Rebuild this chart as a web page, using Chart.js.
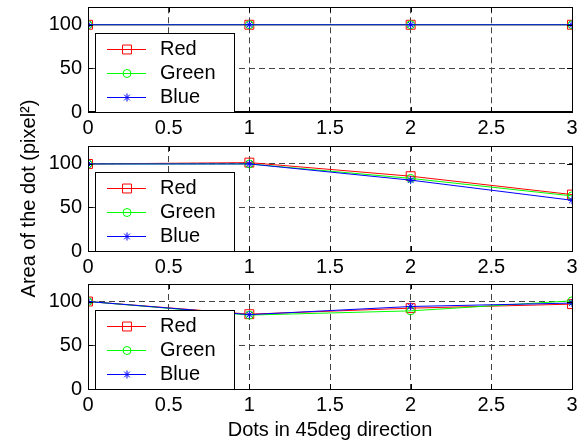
<!DOCTYPE html>
<html><head><meta charset="utf-8">
<script src="https://cdn.jsdelivr.net/npm/chart.js@4.4.0/dist/chart.umd.min.js"></script>
<style>
html,body{margin:0;padding:0;background:#fff;}
#wrap{position:relative;width:583px;height:443px;background:#fff;}
.box{position:absolute;left:0;top:0;width:583px;height:443px;}
</style></head><body>
<div id="wrap">
<div class="box"><canvas id="c1"></canvas></div>
<div class="box"><canvas id="c2"></canvas></div>
<div class="box"><canvas id="c3"></canvas></div>
</div>
<script>
// ---- data ----
const xValues = [0, 1, 2, 3];
const seriesNames = ['Red', 'Green', 'Blue'];
const panel1Red   = [100, 100, 100, 100];
const panel1Green = [100, 100, 100, 100];
const panel1Blue  = [100, 100, 100, 100];
const panel2Red   = [99.5, 101, 85.5, 64.5];
const panel2Green = [99.5, 99.5, 83, 63];
const panel2Blue  = [99.5, 99.5, 81, 58];
const panel3Red   = [100, 85.5, 92.4, 97];
const panel3Green = [100, 84.5, 89.3, 100.8];
const panel3Blue  = [100, 85, 94.3, 98.2];
const xTicks = [0, 0.5, 1, 1.5, 2, 2.5, 3];
const yTicks = [0, 50, 100];
const xTitle = 'Dots in 45deg direction';
const yTitle = 'Area of the dot (pixel\u00B2)';

// ---- styles ----
const FONT = '"Liberation Sans", Arial, sans-serif';
Chart.defaults.font.family = FONT;
Chart.defaults.font.size = 20;
Chart.defaults.color = '#000';
const colors = ['#ff0000', '#00ff00', '#0000ff'];
const pStyles = ['rect', 'circle', 'star'];
const pRadii = [6.3, 4, 4];
const orders = [3, 2, 1];

const boxLegend = {
  id: 'boxLegend',
  afterDraw(chart) {
    const {ctx, chartArea: a} = chart;
    ctx.save();
    ctx.setLineDash([]);
    // frame + inward ticks
    ctx.strokeStyle = '#000'; ctx.lineWidth = 1;
    ctx.strokeRect(Math.round(a.left) + 0.5, Math.round(a.top) + 0.5, Math.round(a.right - a.left), Math.round(a.bottom - a.top));
    const xs = chart.scales.x, ys = chart.scales.y;
    ctx.beginPath();
    xs.ticks.forEach(t => {
      const px = Math.round(xs.getPixelForValue(t.value)) + 0.5;
      ctx.moveTo(px, a.bottom); ctx.lineTo(px, a.bottom - 5);
      ctx.moveTo(px, a.top); ctx.lineTo(px, a.top + 5);
    });
    ys.ticks.forEach(t => {
      const py = Math.round(ys.getPixelForValue(t.value)) + 0.5;
      ctx.moveTo(a.left, py); ctx.lineTo(a.left + 5, py);
      ctx.moveTo(a.right, py); ctx.lineTo(a.right - 5, py);
    });
    ctx.stroke();
    // legend box
    const x0 = Math.round(a.left) + 7, y0 = Math.round(a.top) + 26, w = 139, h = Math.round(a.bottom) - y0;
    ctx.fillStyle = '#fff'; ctx.fillRect(x0, y0, w, h);
    ctx.strokeStyle = '#000';
    ctx.strokeRect(x0 + 0.5, y0 + 0.5, w, h);
    chart.data.datasets.forEach((ds, i) => {
      const cy = y0 + 16 + i * 24;
      ctx.fillStyle = ds.borderColor;
      ctx.fillRect(x0 + 12, cy, 39, 1);
      ctx.save();
      ctx.fillStyle = 'rgba(0,0,0,0)';
      ctx.strokeStyle = ds.borderColor;
      ctx.lineWidth = 1;
      Chart.helpers.drawPoint(ctx, {pointStyle: ds.pointStyle, radius: ds.pointRadius, borderWidth: 1, rotation: 0}, x0 + 32, cy + 0.5);
      ctx.restore();
      ctx.fillStyle = '#000';
      ctx.font = '20px ' + FONT;
      ctx.textBaseline = 'middle';
      ctx.fillText(ds.label, x0 + 65, cy);
    });
    ctx.restore();
  }
};

function makeChart(id, seriesList, padTop, padBottom, xAxisH, showX, showY) {
  const datasets = seriesList.map((vals, i) => ({
    label: seriesNames[i],
    data: xValues.map((x, k) => ({x: x, y: vals[k]})),
    borderColor: colors[i],
    backgroundColor: 'rgba(0,0,0,0)',
    pointBackgroundColor: 'rgba(0,0,0,0)',
    pointBorderColor: colors[i],
    pointStyle: pStyles[i],
    pointRadius: pRadii[i],
    pointBorderWidth: 1,
    borderWidth: 1,
    tension: 0,
    order: orders[i]
  }));
  const gridOpts = {color: '#444', lineWidth: 1, drawTicks: false};
  return new Chart(document.getElementById(id), {
    type: 'line',
    data: {datasets},
    plugins: [boxLegend],
    options: {
      responsive: true, maintainAspectRatio: false, animation: false, events: [],
      layout: {padding: {top: padTop, right: 11, left: 0, bottom: padBottom}},
      plugins: {legend: {display: false}, tooltip: {enabled: false}},
      scales: {
        x: {
          type: 'linear', min: 0, max: 3,
          afterBuildTicks: s => { s.ticks = xTicks.map(v => ({value: v})); },
          afterFit: s => { s.height = xAxisH; s.paddingLeft = 0; s.paddingRight = 0; },
          ticks: {callback: v => String(v), padding: 4, maxRotation: 0, autoSkip: false, color: '#000'},
          grid: gridOpts,
          border: {display: true, color: '#000', width: 1, dash: [6, 4]},
          title: {display: showX, text: xTitle, color: '#000', padding: {top: 0, bottom: 1}}
        },
        y: {
          type: 'linear', min: 0, max: 120,
          afterBuildTicks: s => { s.ticks = yTicks.map(v => ({value: v})); },
          afterFit: s => { s.width = 88; s.paddingTop = 0; s.paddingBottom = 0; },
          ticks: {padding: 6, color: '#000'},
          grid: gridOpts,
          border: {display: true, color: '#000', width: 1, dash: [6, 4]},
          title: {display: showY, text: yTitle, color: '#000', padding: {top: 17, bottom: 0}}
        }
      }
    }
  });
}

makeChart('c1', [panel1Red, panel1Green, panel1Blue], 6, 301, 30, false, false);
makeChart('c2', [panel2Red, panel2Green, panel2Blue], 146, 162, 30, false, true);
makeChart('c3', [panel3Red, panel3Green, panel3Blue], 284, 0, 54, true, false);
</script>
</body></html>
